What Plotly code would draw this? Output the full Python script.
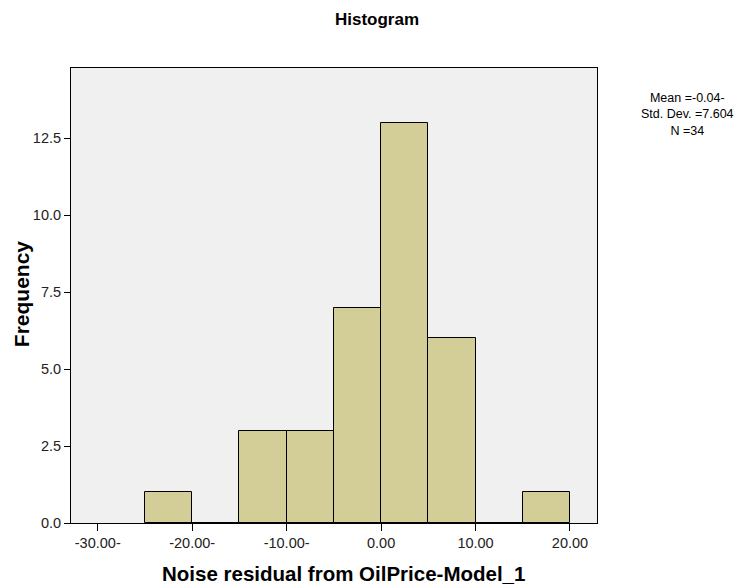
import plotly.graph_objects as go

# Histogram of residuals: bin edges (width 5) and frequency per bin
bin_edges = [-25, -20, -15, -10, -5, 0, 5, 10, 15, 20]
frequencies = [1, 0, 3, 3, 7, 13, 6, 0, 1]

x_tick_values = [-30, -20, -10, 0, 10, 20]
x_tick_labels = ["-30.00-", "-20.00-", "-10.00-", "0.00", "10.00", "20.00"]
y_tick_values = [0, 2.5, 5, 7.5, 10, 12.5]
y_tick_labels = ["0.0", "2.5", "5.0", "7.5", "10.0", "12.5"]

stats_lines = ["Mean =-0.04-", "Std. Dev. =7.604", "N =34"]

centers = [(a + b) / 2 for a, b in zip(bin_edges[:-1], bin_edges[1:])]
widths = [b - a for a, b in zip(bin_edges[:-1], bin_edges[1:])]

fig = go.Figure(
    go.Bar(
        x=centers,
        y=frequencies,
        width=widths,
        marker=dict(color="#d3ce97", line=dict(color="black", width=1)),
        hoverinfo="x+y",
    )
)

font_family = "Liberation Sans, Arial, sans-serif"

axis_common = dict(
    tickmode="array",
    ticks="outside",
    tickcolor="black",
    tickwidth=1,
    showgrid=False,
    zeroline=False,
    showline=True,
    linecolor="black",
    linewidth=1,
    mirror=True,
    tickfont=dict(size=14.5, color="#222222"),
)

fig.update_layout(
    width=745,
    height=588,
    margin=dict(l=71, r=148, t=68, b=65),
    paper_bgcolor="white",
    plot_bgcolor="#f0f0f0",
    showlegend=False,
    bargap=0,
    font=dict(family=font_family, size=13, color="#222222"),
    title=dict(
        text="<b>Histogram</b>",
        x=0.506,
        xref="container",
        xanchor="center",
        y=0.968,
        yref="container",
        yanchor="middle",
        font=dict(family=font_family, size=17, color="black"),
    ),
    xaxis=dict(
        range=[-32.83, 22.86],
        tickvals=x_tick_values,
        ticktext=x_tick_labels,
        ticklen=7,
        **axis_common,
    ),
    yaxis=dict(
        range=[0, 14.78],
        tickvals=y_tick_values,
        ticktext=y_tick_labels,
        ticklen=6,
        **axis_common,
    ),
)

# Axis titles
fig.add_annotation(
    text="<b>Noise residual from OilPrice-Model_1</b>",
    xref="paper", yref="paper",
    x=0.519, y=-0.110,
    xanchor="center", yanchor="middle",
    showarrow=False,
    font=dict(family=font_family, size=20.5, color="black"),
)
fig.add_annotation(
    text="<b>Frequency</b>",
    xref="paper", yref="paper",
    x=-0.095, y=0.503,
    xanchor="center", yanchor="middle",
    textangle=-90,
    showarrow=False,
    font=dict(family=font_family, size=21, color="black"),
)

# Summary statistics block
fig.add_annotation(
    text="<br>".join(stats_lines),
    xref="paper",
    yref="paper",
    x=1.173,
    y=0.897,
    xanchor="center",
    yanchor="middle",
    align="center",
    showarrow=False,
    font=dict(family=font_family, size=12.5, color="black"),
)

fig.write_html("out.html")
